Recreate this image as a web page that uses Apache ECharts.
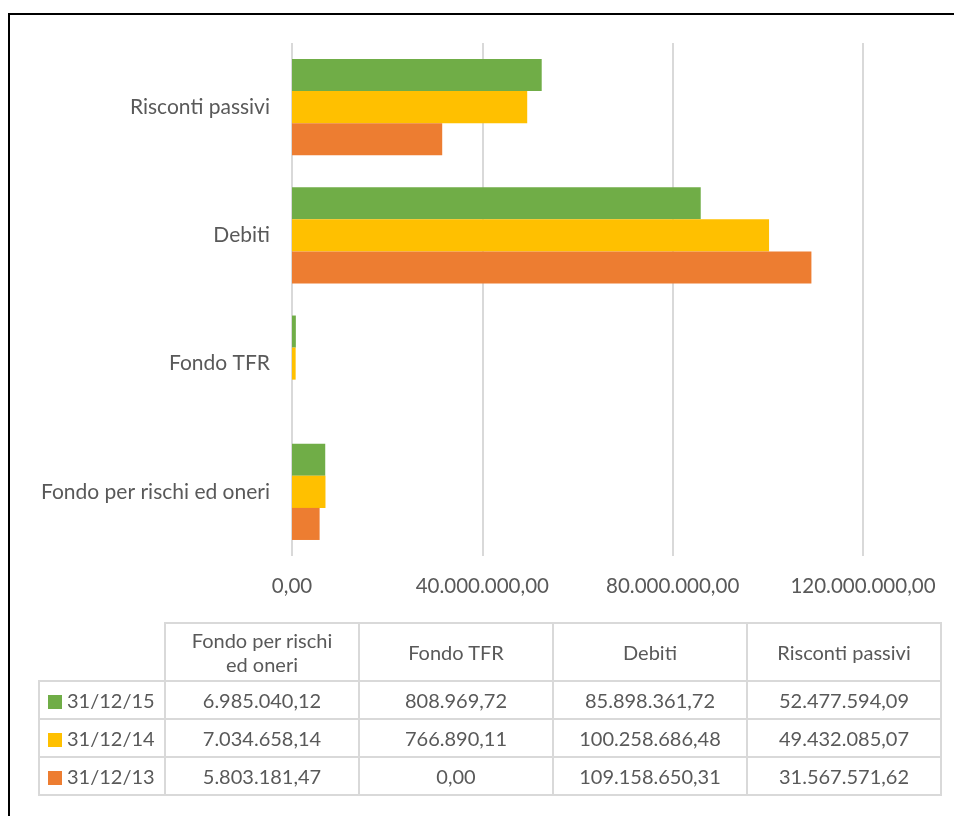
<!DOCTYPE html>
<html>
<head>
<meta charset="utf-8">
<script src="https://cdn.jsdelivr.net/npm/echarts@6/dist/echarts.min.js"></script>
<style>
  html, body { margin: 0; padding: 0; background: #fff; overflow: hidden; }
  #frame { position: absolute; left: 8px; top: 13px; width: 1000px; height: 900px; border: 2px solid #000; box-sizing: border-box; }
  #diagram { position: absolute; left: 0; top: 0; width: 954px; height: 816px; }
  #datatable { position: absolute; left: 38px; top: 622px; width: 902px; table-layout: fixed; border-collapse: collapse; font-family: Lato, sans-serif; font-size: 20px; color: #595959; }
  #datatable td { border: 2px solid #D9D9D9; text-align: center; padding: 0; white-space: nowrap; }
  #datatable td.empty { border-top: none; border-left: none; }
  #datatable td.lbl { text-align: left; padding-left: 8px; }
  .key { display: inline-block; width: 14px; height: 14px; margin-right: 5px; vertical-align: -1px; }
</style>
</head>
<body>
<div id="frame"></div>
<div id="diagram"></div>
<table id="datatable"></table>
<script>
// categorie (dal basso verso l'alto, come nel grafico)
var categories = ['Fondo per rischi ed oneri', 'Fondo TFR', 'Debiti', 'Risconti passivi'];
var headerLines = ['Fondo per rischi<br>ed oneri', 'Fondo TFR', 'Debiti', 'Risconti passivi'];

var dates = ['31/12/15', '31/12/14', '31/12/13'];
var colors = ['#70AD47', '#FFC000', '#ED7D31'];

var v2015 = [6985040.12, 808969.72, 85898361.72, 52477594.09];
var v2014 = [7034658.14, 766890.11, 100258686.48, 49432085.07];
var v2013 = [5803181.47, 0.00, 109158650.31, 31567571.62];

var tickMax = 120000000;
var tickStep = 40000000;

function fmt(n) {
  var parts = Number(n).toFixed(2).split('.');
  return parts[0].replace(/\B(?=(\d{3})+(?!\d))/g, '.') + ',' + parts[1];
}

var values = [v2015, v2014, v2013];

// tabella dati sotto il grafico
var html = '<colgroup><col style="width:126px">';
headerLines.forEach(function () { html += '<col style="width:194px">'; });
html += '</colgroup><tr style="height:58px"><td class="empty"></td>';
headerLines.forEach(function (h) { html += '<td style="line-height:1.2">' + h + '</td>'; });
html += '</tr>';
dates.forEach(function (d, i) {
  html += '<tr style="height:38px"><td class="lbl"><span class="key" style="background:' + colors[i] + '"></span>' + d + '</td>';
  values[i].forEach(function (v) { html += '<td>' + fmt(v) + '</td>'; });
  html += '</tr>';
});
document.getElementById('datatable').innerHTML = html;

var myChart = echarts.init(document.getElementById('diagram'));

var seriesList = dates.map(function (d, i) {
  return {
    name: d,
    type: 'bar',
    data: values[i],
    barGap: '0%',
    barCategoryGap: '25%',
    itemStyle: { color: colors[i] }
  };
});

var option = {
  animation: false,
  textStyle: { fontFamily: 'Lato, sans-serif' },
  grid: { left: 292, right: 91, top: 43, bottom: 260, containLabel: false },
  xAxis: {
    type: 'value',
    min: 0,
    max: tickMax,
    interval: tickStep,
    axisLine: { show: false },
    axisTick: { show: false },
    splitLine: { lineStyle: { color: '#D9D9D9', width: 2 } },
    axisLabel: { color: '#595959', fontSize: 20.5, margin: 20, formatter: function (v) { return fmt(v); } }
  },
  yAxis: {
    type: 'category',
    data: categories,
    axisLine: { show: false },
    axisTick: { show: false },
    axisLabel: { color: '#595959', fontSize: 21, margin: 22 }
  },
  series: seriesList
};

myChart.setOption(option);
</script>
</body>
</html>
